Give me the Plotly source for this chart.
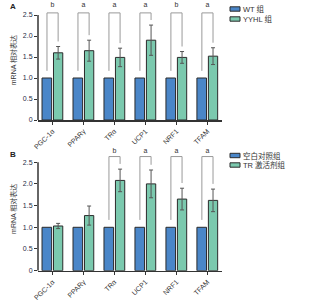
import plotly.graph_objects as go

genes = ["PGC-1α", "PPARγ", "TRα", "UCP1", "NRF1", "TFAM"]
yticks = [0, 0.5, 1.0, 1.5, 2.0, 2.5]
ytick_text = ["0", "0.5", "1.0", "1.5", "2.0", "2.5"]

a_ctrl = [1.0, 1.0, 1.0, 1.0, 1.0, 1.0]
a_treat = [1.60, 1.65, 1.49, 1.90, 1.49, 1.52]
a_treat_err = [0.15, 0.25, 0.22, 0.36, 0.14, 0.20]
a_letters = ["b", "a", "a", "a", "b", "a"]
a_names = ["WT 组", "YYHL 组"]

b_ctrl = [1.0, 1.0, 1.0, 1.0, 1.0, 1.0]
b_treat = [1.03, 1.27, 2.08, 2.00, 1.65, 1.62]
b_treat_err = [0.06, 0.22, 0.26, 0.32, 0.25, 0.26]
b_letters = ["", "", "b", "a", "a", "a"]
b_names = ["空白对照组", "TR 激活剂组"]

BLUE = "#4a86c8"
GREEN = "#7bc9ae"
EDGE = "#2b2b2b"
FONT = "Liberation Sans, Noto Sans CJK SC, sans-serif"

idx = list(range(len(genes)))
fig = go.Figure()


def add_panel(ctrl, treat, err, letters, names, xa, ya, top, ltr_y):
    fig.add_trace(go.Bar(x=idx, y=ctrl, width=0.31, offset=-0.34, marker=dict(color=BLUE, line=dict(color=EDGE, width=1)),
                         name=names[0], showlegend=False, xaxis=xa, yaxis=ya))
    fig.add_trace(go.Bar(x=idx, y=treat, width=0.3, offset=0.03, marker=dict(color=GREEN, line=dict(color=EDGE, width=1)),
                         error_y=dict(type="data", array=err, visible=True, color="#555", thickness=1, width=2),
                         name=names[1], showlegend=False, xaxis=xa, yaxis=ya))
    tx, ty, tt = [], [], []
    for i in idx:
        if not letters[i]:
            continue
        et = treat[i] + err[i] + 0.12
        fig.add_trace(go.Scatter(x=[i - 0.18, i - 0.18, i + 0.18, i + 0.18],
                                 y=[ctrl[i] + 0.17, top, top, et], mode="lines",
                                 line=dict(color="#9a9a9a", width=1),
                                 showlegend=False, hoverinfo="skip", xaxis=xa, yaxis=ya))
        tx.append(i)
        ty.append(ltr_y)
        tt.append(letters[i])
    fig.add_trace(go.Scatter(x=tx, y=ty, mode="text", text=tt, textfont=dict(size=7, color="#333", family=FONT),
                             showlegend=False, hoverinfo="skip", xaxis=xa, yaxis=ya, cliponaxis=False))


add_panel(a_ctrl, a_treat, a_treat_err, a_letters, a_names, "x", "y", 2.55, 2.74)
add_panel(b_ctrl, b_treat, b_treat_err, b_letters, b_names, "x2", "y2", 2.63, 2.76)

xdom = [38 / 323, 221.7 / 323]
common_x = dict(range=[-0.47, 5.46], tickvals=idx, ticktext=genes, tickangle=-45, showline=True,
                linecolor="#333", linewidth=1.5, ticks="outside", ticklen=3, tickcolor="#333",
                tickfont=dict(size=7, color="#333", family=FONT), showgrid=False, zeroline=False,
                domain=xdom, automargin=False)
common_y = dict(range=[0, 2.85], tickvals=yticks, ticktext=ytick_text, ticks="outside", ticklen=3,
                tickcolor="#333", tickfont=dict(size=7, color="#1f2a44", family=FONT), showline=False,
                showgrid=False, zeroline=False, automargin=False,
                title=dict(text="mRNA 相对表达", font=dict(size=7, color="#333", family=FONT), standoff=5))

fig.update_layout(
    width=323, height=300, autosize=False,
    margin=dict(l=0, r=0, t=0, b=0, pad=0),
    paper_bgcolor="white", plot_bgcolor="white",
    barmode="overlay",
    showlegend=False,
    xaxis=dict(common_x, anchor="y"),
    yaxis=dict(common_y, domain=[0.6, 0.999], anchor="x"),
    xaxis2=dict(common_x, anchor="y2"),
    yaxis2=dict(common_y, domain=[0.0977, 0.51], anchor="x2"),
)

# y-axis lines from 0 to 2.5
for xr, yr in (("x domain", "y"), ("x2 domain", "y2")):
    fig.add_shape(type="line", xref=xr, yref=yr, x0=0, x1=0, y0=0, y1=2.5, line=dict(color="#333", width=1.5))

# panel labels
fig.add_annotation(text="<b>A</b>", xref="paper", yref="paper", x=13 / 323, y=1 - 7 / 300, showarrow=False,
                   font=dict(size=8, color="#222", family=FONT), xanchor="center", yanchor="middle")
fig.add_annotation(text="<b>B</b>", xref="paper", yref="paper", x=13 / 323, y=1 - 154 / 300, showarrow=False,
                   font=dict(size=8, color="#222", family=FONT), xanchor="center", yanchor="middle")

# manual legends
def add_legend(names, centers):
    for name, col, cy in zip(names, (BLUE, GREEN), centers):
        fig.add_shape(type="rect", xref="paper", yref="paper", x0=230 / 323, x1=240 / 323,
                      y0=1 - (cy + 2.2) / 300, y1=1 - (cy - 2.2) / 300,
                      line=dict(color=EDGE, width=1), fillcolor=col)
        fig.add_annotation(text=name, xref="paper", yref="paper", x=241 / 323, y=1 - cy / 300, showarrow=False,
                           xanchor="left", yanchor="middle", font=dict(size=7.5, color="#333", family=FONT))

add_legend(a_names, (9, 19))
add_legend(b_names, (155.5, 165))

fig.write_html("out.html", config={"displayModeBar": False, "staticPlot": True},
               post_script="document.body.style.margin='0px';document.body.style.overflow='hidden';")
